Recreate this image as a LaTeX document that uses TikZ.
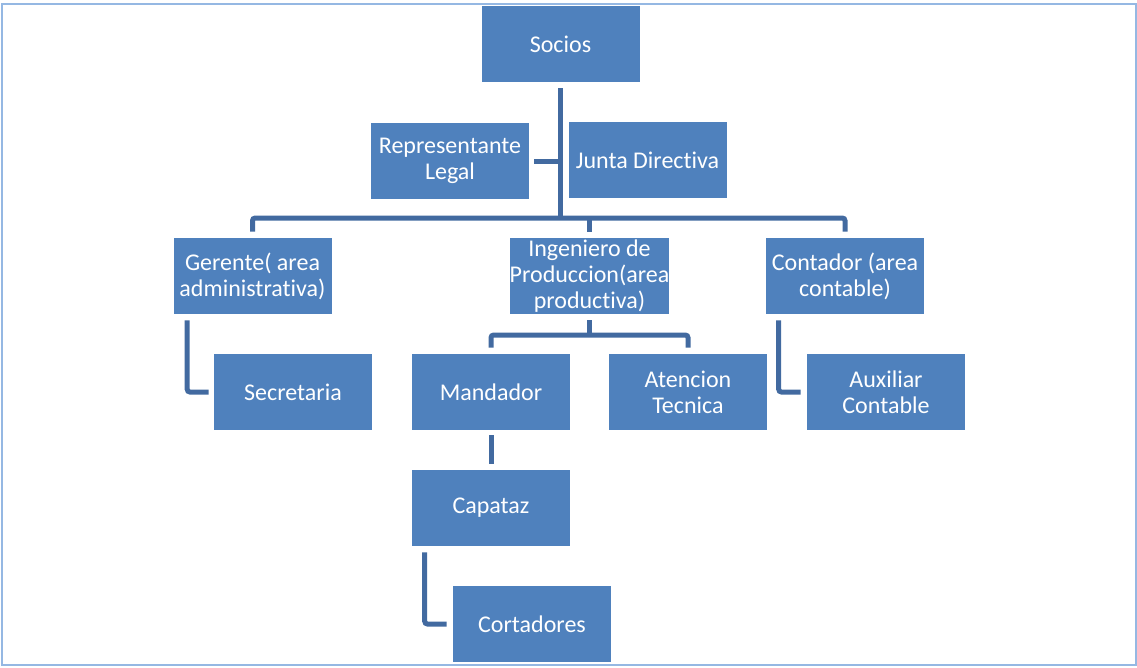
\documentclass[tikz,border=0pt]{standalone}
\usepackage{fontspec}
\setmainfont{Carlito}[Ligatures=NoCommon]
\usetikzlibrary{calc}
\definecolor{boxblue}{RGB}{79,129,189}
\definecolor{connblue}{RGB}{66,106,160}
\definecolor{frameblue}{RGB}{149,184,227}
\begin{document}
\begin{tikzpicture}[x=0.75pt,y=-0.75pt,
  orgbox/.style={fill=boxblue,draw=none,text=white,inner sep=0pt,
    minimum width=118.5pt,minimum height=57pt,align=center,
    font=\fontsize{18pt}{19.5pt}\selectfont},
  conn/.style={draw=connblue,line width=3.75pt,rounded corners=2pt}]
\useasboundingbox (0,0) rectangle (1137,667);
\draw[frameblue,line width=1.5pt] (2,4) rectangle (1135.5,664.5);
\node[orgbox] (soc) at (560.5,44) {Socios};
\node[orgbox] (rep) at (450,161) {Representante\\Legal};
\node[orgbox] (jun) at (647.5,160) {Junta Directiva};
\node[orgbox] (ger) at (252.5,276) {Gerente( area\\administrativa)};
\node[orgbox] (ing) at (589.5,276) {Ingeniero de\\Produccion(area\\productiva)};
\node[orgbox] (con) at (845,276) {Contador (area\\contable)};
\node[orgbox] (sec) at (293,392) {Secretaria};
\node[orgbox] (man) at (491,392) {Mandador};
\node[orgbox] (ate) at (688,392) {Atencion\\Tecnica};
\node[orgbox] (aux) at (886,392) {Auxiliar\\Contable};
\node[orgbox] (cap) at (491,508) {Capataz};
\node[orgbox] (cor) at (532,624) {Cortadores};
\coordinate (bar) at (0,218);
\coordinate (subbar) at (0,335);
% trunk
\draw[conn] ([yshift=-4.5pt]soc.south) -- (soc.south |- bar);
\draw[conn] ([xshift=3.75pt]rep.east) -- (soc.south |- rep.east);
\draw[conn] ([yshift=4.5pt]ger.north) -- (ger.north |- bar) -- (con.north |- bar) -- ([yshift=4.5pt]con.north);
\draw[conn] ([yshift=4.5pt]ing.north) -- (ing.north |- bar);
% ingeniero
\draw[conn] ([yshift=-4.5pt]ing.south) -- (ing.south |- subbar);
\draw[conn] ([yshift=4.5pt]man.north) -- (man.north |- subbar) -- (ate.north |- subbar) -- ([yshift=4.5pt]ate.north);
\draw[conn] ([yshift=-3.75pt]man.south) -- ([yshift=4.5pt]cap.north);
% side branches
\draw[conn] ($(ger.south west)+(14,6)$) |- ([xshift=-3.75pt]sec.west);
\draw[conn] ($(con.south west)+(13,6)$) |- ([xshift=-4.5pt]aux.west);
\draw[conn] ($(cap.south west)+(13,6)$) |- ([xshift=-4.5pt]cor.west);
\end{tikzpicture}
\end{document}
